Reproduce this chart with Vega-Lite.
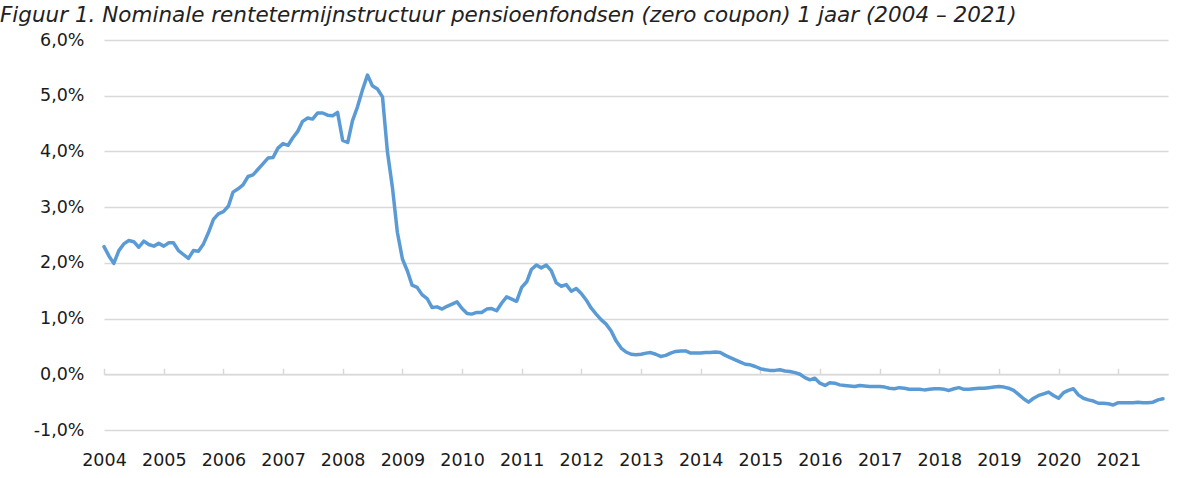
{
  "$schema": "https://vega.github.io/schema/vega-lite/v6.json",
  "width": 1064,
  "height": 390,
  "autosize": {"type": "none"},
  "padding": {"left": 104, "top": 40, "right": 19, "bottom": 48},
  "background": "white",
  "config": {
    "locale": {"number": {"decimal": ",", "thousands": ".", "grouping": [3], "currency": ["€", ""], "minus": "-"}},
    "view": {"stroke": null},
    "font": "DejaVu Sans"
  },
  "title": {
    "text": "Figuur 1. Nominale rentetermijnstructuur pensioenfondsen (zero coupon) 1 jaar (2004 – 2021)",
    "anchor": "start",
    "frame": "group",
    "dx": -104,
    "font": "DejaVu Sans",
    "fontStyle": "italic",
    "fontWeight": "normal",
    "fontSize": 21.5,
    "color": "#222222",
    "baseline": "alphabetic",
    "offset": 0,
    "dy": 12
  },
  "data": {
    "values": [
      {"maand": "2004-01-01", "rente": 2.29}, {"maand": "2004-02-01", "rente": 2.12}, {"maand": "2004-03-01", "rente": 1.99}, {"maand": "2004-04-01", "rente": 2.22}, {"maand": "2004-05-01", "rente": 2.34}, {"maand": "2004-06-01", "rente": 2.40}, {"maand": "2004-07-01", "rente": 2.38}, {"maand": "2004-08-01", "rente": 2.28}, {"maand": "2004-09-01", "rente": 2.39}, {"maand": "2004-10-01", "rente": 2.33}, {"maand": "2004-11-01", "rente": 2.30}, {"maand": "2004-12-01", "rente": 2.35},
      {"maand": "2005-01-01", "rente": 2.30}, {"maand": "2005-02-01", "rente": 2.36}, {"maand": "2005-03-01", "rente": 2.36}, {"maand": "2005-04-01", "rente": 2.22}, {"maand": "2005-05-01", "rente": 2.15}, {"maand": "2005-06-01", "rente": 2.08}, {"maand": "2005-07-01", "rente": 2.22}, {"maand": "2005-08-01", "rente": 2.21}, {"maand": "2005-09-01", "rente": 2.34}, {"maand": "2005-10-01", "rente": 2.54}, {"maand": "2005-11-01", "rente": 2.78}, {"maand": "2005-12-01", "rente": 2.88},
      {"maand": "2006-01-01", "rente": 2.92}, {"maand": "2006-02-01", "rente": 3.02}, {"maand": "2006-03-01", "rente": 3.27}, {"maand": "2006-04-01", "rente": 3.33}, {"maand": "2006-05-01", "rente": 3.40}, {"maand": "2006-06-01", "rente": 3.55}, {"maand": "2006-07-01", "rente": 3.58}, {"maand": "2006-08-01", "rente": 3.68}, {"maand": "2006-09-01", "rente": 3.78}, {"maand": "2006-10-01", "rente": 3.88}, {"maand": "2006-11-01", "rente": 3.89}, {"maand": "2006-12-01", "rente": 4.06},
      {"maand": "2007-01-01", "rente": 4.14}, {"maand": "2007-02-01", "rente": 4.11}, {"maand": "2007-03-01", "rente": 4.24}, {"maand": "2007-04-01", "rente": 4.36}, {"maand": "2007-05-01", "rente": 4.54}, {"maand": "2007-06-01", "rente": 4.60}, {"maand": "2007-07-01", "rente": 4.58}, {"maand": "2007-08-01", "rente": 4.69}, {"maand": "2007-09-01", "rente": 4.69}, {"maand": "2007-10-01", "rente": 4.65}, {"maand": "2007-11-01", "rente": 4.64}, {"maand": "2007-12-01", "rente": 4.70},
      {"maand": "2008-01-01", "rente": 4.20}, {"maand": "2008-02-01", "rente": 4.16}, {"maand": "2008-03-01", "rente": 4.55}, {"maand": "2008-04-01", "rente": 4.80}, {"maand": "2008-05-01", "rente": 5.10}, {"maand": "2008-06-01", "rente": 5.37}, {"maand": "2008-07-01", "rente": 5.18}, {"maand": "2008-08-01", "rente": 5.12}, {"maand": "2008-09-01", "rente": 4.98}, {"maand": "2008-10-01", "rente": 4.00}, {"maand": "2008-11-01", "rente": 3.35}, {"maand": "2008-12-01", "rente": 2.55},
      {"maand": "2009-01-01", "rente": 2.07}, {"maand": "2009-02-01", "rente": 1.85}, {"maand": "2009-03-01", "rente": 1.60}, {"maand": "2009-04-01", "rente": 1.56}, {"maand": "2009-05-01", "rente": 1.43}, {"maand": "2009-06-01", "rente": 1.36}, {"maand": "2009-07-01", "rente": 1.20}, {"maand": "2009-08-01", "rente": 1.21}, {"maand": "2009-09-01", "rente": 1.17}, {"maand": "2009-10-01", "rente": 1.22}, {"maand": "2009-11-01", "rente": 1.26}, {"maand": "2009-12-01", "rente": 1.30},
      {"maand": "2010-01-01", "rente": 1.18}, {"maand": "2010-02-01", "rente": 1.09}, {"maand": "2010-03-01", "rente": 1.08}, {"maand": "2010-04-01", "rente": 1.11}, {"maand": "2010-05-01", "rente": 1.11}, {"maand": "2010-06-01", "rente": 1.17}, {"maand": "2010-07-01", "rente": 1.18}, {"maand": "2010-08-01", "rente": 1.14}, {"maand": "2010-09-01", "rente": 1.28}, {"maand": "2010-10-01", "rente": 1.39}, {"maand": "2010-11-01", "rente": 1.35}, {"maand": "2010-12-01", "rente": 1.31},
      {"maand": "2011-01-01", "rente": 1.56}, {"maand": "2011-02-01", "rente": 1.66}, {"maand": "2011-03-01", "rente": 1.88}, {"maand": "2011-04-01", "rente": 1.96}, {"maand": "2011-05-01", "rente": 1.91}, {"maand": "2011-06-01", "rente": 1.96}, {"maand": "2011-07-01", "rente": 1.86}, {"maand": "2011-08-01", "rente": 1.64}, {"maand": "2011-09-01", "rente": 1.58}, {"maand": "2011-10-01", "rente": 1.61}, {"maand": "2011-11-01", "rente": 1.49}, {"maand": "2011-12-01", "rente": 1.54},
      {"maand": "2012-01-01", "rente": 1.45}, {"maand": "2012-02-01", "rente": 1.33}, {"maand": "2012-03-01", "rente": 1.19}, {"maand": "2012-04-01", "rente": 1.08}, {"maand": "2012-05-01", "rente": 0.98}, {"maand": "2012-06-01", "rente": 0.90}, {"maand": "2012-07-01", "rente": 0.78}, {"maand": "2012-08-01", "rente": 0.60}, {"maand": "2012-09-01", "rente": 0.47}, {"maand": "2012-10-01", "rente": 0.40}, {"maand": "2012-11-01", "rente": 0.36}, {"maand": "2012-12-01", "rente": 0.35},
      {"maand": "2013-01-01", "rente": 0.36}, {"maand": "2013-02-01", "rente": 0.38}, {"maand": "2013-03-01", "rente": 0.39}, {"maand": "2013-04-01", "rente": 0.36}, {"maand": "2013-05-01", "rente": 0.32}, {"maand": "2013-06-01", "rente": 0.34}, {"maand": "2013-07-01", "rente": 0.38}, {"maand": "2013-08-01", "rente": 0.41}, {"maand": "2013-09-01", "rente": 0.42}, {"maand": "2013-10-01", "rente": 0.42}, {"maand": "2013-11-01", "rente": 0.38}, {"maand": "2013-12-01", "rente": 0.38},
      {"maand": "2014-01-01", "rente": 0.38}, {"maand": "2014-02-01", "rente": 0.39}, {"maand": "2014-03-01", "rente": 0.39}, {"maand": "2014-04-01", "rente": 0.40}, {"maand": "2014-05-01", "rente": 0.39}, {"maand": "2014-06-01", "rente": 0.34}, {"maand": "2014-07-01", "rente": 0.30}, {"maand": "2014-08-01", "rente": 0.26}, {"maand": "2014-09-01", "rente": 0.22}, {"maand": "2014-10-01", "rente": 0.18}, {"maand": "2014-11-01", "rente": 0.17}, {"maand": "2014-12-01", "rente": 0.14},
      {"maand": "2015-01-01", "rente": 0.10}, {"maand": "2015-02-01", "rente": 0.08}, {"maand": "2015-03-01", "rente": 0.07}, {"maand": "2015-04-01", "rente": 0.07}, {"maand": "2015-05-01", "rente": 0.08}, {"maand": "2015-06-01", "rente": 0.06}, {"maand": "2015-07-01", "rente": 0.05}, {"maand": "2015-08-01", "rente": 0.03}, {"maand": "2015-09-01", "rente": 0.00}, {"maand": "2015-10-01", "rente": -0.06}, {"maand": "2015-11-01", "rente": -0.10}, {"maand": "2015-12-01", "rente": -0.07},
      {"maand": "2016-01-01", "rente": -0.16}, {"maand": "2016-02-01", "rente": -0.20}, {"maand": "2016-03-01", "rente": -0.15}, {"maand": "2016-04-01", "rente": -0.16}, {"maand": "2016-05-01", "rente": -0.19}, {"maand": "2016-06-01", "rente": -0.20}, {"maand": "2016-07-01", "rente": -0.21}, {"maand": "2016-08-01", "rente": -0.22}, {"maand": "2016-09-01", "rente": -0.20}, {"maand": "2016-10-01", "rente": -0.21}, {"maand": "2016-11-01", "rente": -0.22}, {"maand": "2016-12-01", "rente": -0.22},
      {"maand": "2017-01-01", "rente": -0.22}, {"maand": "2017-02-01", "rente": -0.23}, {"maand": "2017-03-01", "rente": -0.25}, {"maand": "2017-04-01", "rente": -0.26}, {"maand": "2017-05-01", "rente": -0.24}, {"maand": "2017-06-01", "rente": -0.25}, {"maand": "2017-07-01", "rente": -0.27}, {"maand": "2017-08-01", "rente": -0.27}, {"maand": "2017-09-01", "rente": -0.27}, {"maand": "2017-10-01", "rente": -0.28}, {"maand": "2017-11-01", "rente": -0.27}, {"maand": "2017-12-01", "rente": -0.26},
      {"maand": "2018-01-01", "rente": -0.26}, {"maand": "2018-02-01", "rente": -0.27}, {"maand": "2018-03-01", "rente": -0.29}, {"maand": "2018-04-01", "rente": -0.26}, {"maand": "2018-05-01", "rente": -0.24}, {"maand": "2018-06-01", "rente": -0.27}, {"maand": "2018-07-01", "rente": -0.27}, {"maand": "2018-08-01", "rente": -0.26}, {"maand": "2018-09-01", "rente": -0.25}, {"maand": "2018-10-01", "rente": -0.25}, {"maand": "2018-11-01", "rente": -0.24}, {"maand": "2018-12-01", "rente": -0.23},
      {"maand": "2019-01-01", "rente": -0.22}, {"maand": "2019-02-01", "rente": -0.23}, {"maand": "2019-03-01", "rente": -0.25}, {"maand": "2019-04-01", "rente": -0.29}, {"maand": "2019-05-01", "rente": -0.36}, {"maand": "2019-06-01", "rente": -0.44}, {"maand": "2019-07-01", "rente": -0.50}, {"maand": "2019-08-01", "rente": -0.43}, {"maand": "2019-09-01", "rente": -0.38}, {"maand": "2019-10-01", "rente": -0.35}, {"maand": "2019-11-01", "rente": -0.32}, {"maand": "2019-12-01", "rente": -0.38},
      {"maand": "2020-01-01", "rente": -0.43}, {"maand": "2020-02-01", "rente": -0.33}, {"maand": "2020-03-01", "rente": -0.29}, {"maand": "2020-04-01", "rente": -0.26}, {"maand": "2020-05-01", "rente": -0.37}, {"maand": "2020-06-01", "rente": -0.43}, {"maand": "2020-07-01", "rente": -0.46}, {"maand": "2020-08-01", "rente": -0.48}, {"maand": "2020-09-01", "rente": -0.52}, {"maand": "2020-10-01", "rente": -0.52}, {"maand": "2020-11-01", "rente": -0.53}, {"maand": "2020-12-01", "rente": -0.55},
      {"maand": "2021-01-01", "rente": -0.51}, {"maand": "2021-02-01", "rente": -0.51}, {"maand": "2021-03-01", "rente": -0.51}, {"maand": "2021-04-01", "rente": -0.51}, {"maand": "2021-05-01", "rente": -0.50}, {"maand": "2021-06-01", "rente": -0.51}, {"maand": "2021-07-01", "rente": -0.51}, {"maand": "2021-08-01", "rente": -0.50}, {"maand": "2021-09-01", "rente": -0.46}, {"maand": "2021-10-01", "rente": -0.44}
    ]
  },
  "encoding": {
    "x": {
      "field": "maand",
      "type": "temporal",
      "scale": {"type": "utc", "domain": [{"year": 2004, "month": 1, "date": 1, "utc": true}, {"year": 2021, "month": 11, "date": 1, "utc": true}], "nice": false},
      "title": null
    },
    "y": {
      "field": "rente",
      "type": "quantitative",
      "scale": {"domain": [-1, 6], "nice": false, "zero": false},
      "title": null,
      "axis": {
        "values": [-1, 0, 1, 2, 3, 4, 5, 6],
        "format": ".1f",
        "labelExpr": "datum.label + '%'",
        "domain": false,
        "ticks": false,
        "grid": true,
        "gridColor": "#d9d9d9",
        "gridWidth": 1.5,
        "labelPadding": 20,
        "labelFont": "DejaVu Sans",
        "labelFontSize": 17.5,
        "labelColor": "#1a1a1a"
      }
    }
  },
  "layer": [
    {
      "mark": {"type": "line", "color": "#5b9bd5", "strokeWidth": 3.5, "strokeJoin": "round", "strokeCap": "round"},
      "encoding": {
        "x": {
          "field": "maand", "type": "temporal",
          "axis": {
            "orient": "bottom",
            "format": "%Y",
            "tickCount": {"interval": "year", "step": 1},
            "domain": false,
            "ticks": false,
            "grid": false,
            "labelPadding": 21,
            "labelFlush": false,
            "labelOverlap": false,
            "labelBound": false,
            "labelAlign": "center",
            "labelFont": "DejaVu Sans",
            "labelFontSize": 17.5,
            "labelColor": "#1a1a1a"
          }
        }
      }
    },
    {
      "mark": {"type": "line", "opacity": 0},
      "encoding": {
        "x": {
          "field": "maand", "type": "temporal",
          "axis": {
            "orient": "top",
            "offset": -334.3,
            "tickCount": {"interval": "year", "step": 1},
            "labels": false,
            "grid": false,
            "domain": true,
            "domainColor": "#d9d9d9",
            "domainWidth": 1.5,
            "ticks": true,
            "tickColor": "#d9d9d9",
            "tickWidth": 1.5,
            "tickSize": 6
          }
        }
      }
    }
  ],
  "resolve": {"axis": {"x": "independent"}}
}
